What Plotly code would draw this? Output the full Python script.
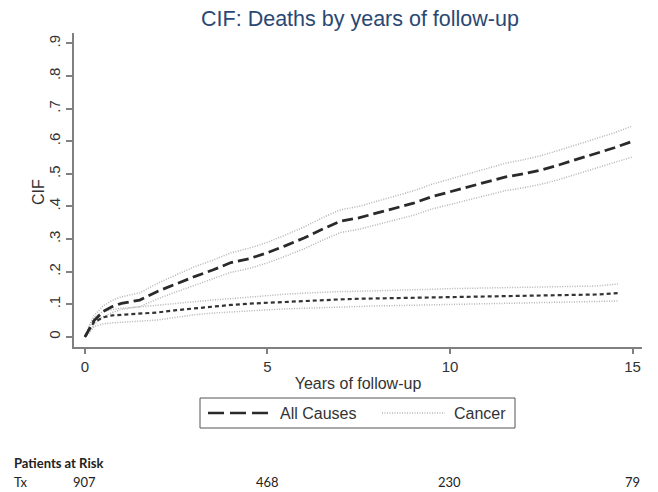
import plotly.graph_objects as go

# ---- data ----
years_all = [0, 0.1, 0.25, 0.5, 0.75, 1, 1.5, 2, 2.5, 3, 3.5, 4, 4.5, 5, 5.5, 6, 6.5, 7,
             7.5, 8, 8.5, 9, 9.5, 10, 10.5, 11, 11.5, 12, 12.5, 13, 13.5, 14, 14.5, 15]
cif_all = [0, 0.02, 0.05, 0.078, 0.093, 0.103, 0.113, 0.14, 0.163, 0.185, 0.205, 0.228,
           0.24, 0.258, 0.28, 0.303, 0.33, 0.355, 0.365, 0.38, 0.395, 0.41, 0.43, 0.445,
           0.46, 0.475, 0.49, 0.5, 0.512, 0.528, 0.545, 0.562, 0.58, 0.6]
cif_all_hi = [0, 0.03, 0.065, 0.095, 0.112, 0.123, 0.135, 0.165, 0.19, 0.215, 0.235, 0.258,
              0.272, 0.29, 0.313, 0.337, 0.365, 0.39, 0.4, 0.415, 0.432, 0.448, 0.468, 0.484,
              0.5, 0.516, 0.532, 0.543, 0.556, 0.573, 0.59, 0.608, 0.626, 0.647]
cif_all_lo = [0, 0.012, 0.038, 0.062, 0.075, 0.084, 0.093, 0.117, 0.138, 0.158, 0.177, 0.198,
              0.21, 0.227, 0.248, 0.27, 0.296, 0.32, 0.33, 0.345, 0.358, 0.373, 0.392, 0.406,
              0.42, 0.434, 0.448, 0.457, 0.468, 0.483, 0.5, 0.516, 0.533, 0.552]

years_can = [0, 0.1, 0.25, 0.5, 0.75, 1, 1.5, 2, 2.5, 3, 3.5, 4, 4.5, 5, 5.5, 6, 6.5, 7,
             7.5, 8, 8.5, 9, 9.5, 10, 10.5, 11, 11.5, 12, 12.5, 13, 13.5, 14, 14.6]
cif_can = [0, 0.02, 0.045, 0.06, 0.066, 0.068, 0.07, 0.075, 0.082, 0.088, 0.093, 0.098,
           0.102, 0.105, 0.108, 0.11, 0.113, 0.115, 0.117, 0.118, 0.119, 0.12, 0.121, 0.123,
           0.124, 0.125, 0.126, 0.127, 0.128, 0.128, 0.129, 0.13, 0.134]
cif_can_hi = [0, 0.03, 0.06, 0.078, 0.084, 0.088, 0.092, 0.098, 0.104, 0.108, 0.113, 0.118,
              0.123, 0.127, 0.131, 0.134, 0.137, 0.139, 0.14, 0.141, 0.142, 0.144, 0.146,
              0.148, 0.149, 0.15, 0.151, 0.152, 0.153, 0.154, 0.155, 0.156, 0.162]
cif_can_lo = [0, 0.01, 0.032, 0.04, 0.043, 0.045, 0.047, 0.052, 0.06, 0.068, 0.073, 0.077,
              0.08, 0.083, 0.086, 0.088, 0.091, 0.093, 0.094, 0.095, 0.096, 0.097, 0.098,
              0.1, 0.101, 0.102, 0.103, 0.104, 0.104, 0.105, 0.106, 0.107, 0.11]

x_ticks = [0, 5, 10, 15]
y_ticks = [0, 0.1, 0.2, 0.3, 0.4, 0.5, 0.6, 0.7, 0.8, 0.9]
y_ticktext = ["0", ".1", ".2", ".3", ".4", ".5", ".6", ".7", ".8", ".9"]
at_risk = [907, 468, 230, 79]

CI_COLOR = "#b4b4b4"
fig = go.Figure()
for y in (cif_all_hi, cif_all_lo):
    fig.add_trace(go.Scatter(x=years_all, y=y, mode="lines", showlegend=False,
                             line=dict(color=CI_COLOR, width=1.5, dash="1px,1.5px")))
for y in (cif_can_hi, cif_can_lo):
    fig.add_trace(go.Scatter(x=years_can, y=y, mode="lines", showlegend=False,
                             line=dict(color=CI_COLOR, width=1.5, dash="1px,1.5px")))
fig.add_trace(go.Scatter(x=years_can, y=cif_can, mode="lines", name="Cancer", showlegend=False,
                         line=dict(color="#333333", width=2.2, dash="4px,3px")))
fig.add_trace(go.Scatter(x=years_all, y=cif_all, mode="lines", name="All Causes", showlegend=False,
                         line=dict(color="#2a2a2a", width=2.8, dash="11px,5px")))

FONT = "Liberation Sans, Arial, sans-serif"
RFONT = "Lato, Open Sans, sans-serif"
AX = "#808080"

# plot area pixel geometry
L, R, T, B = 74, 642, 33, 347
W, H = 658, 492
def px_x(px):
    return (px - L) / (R - L)
def px_y(py):
    return (B - py) / (B - T)

shapes = [
    dict(type="rect", xref="paper", yref="paper", x0=px_x(200), x1=px_x(515),
         y0=px_y(428), y1=px_y(398), line=dict(color="#555555", width=1)),
    dict(type="line", xref="paper", yref="paper", x0=px_x(208), x1=px_x(269),
         y0=px_y(413), y1=px_y(413), line=dict(color="#2a2a2a", width=2.6, dash="16px,6px")),
    dict(type="line", xref="paper", yref="paper", x0=px_x(382), x1=px_x(445),
         y0=px_y(413), y1=px_y(413), line=dict(color=CI_COLOR, width=1.5, dash="1px,1.5px")),
]

annotations = [
    dict(text="All Causes", xref="paper", yref="paper", x=px_x(278), y=px_y(413),
         xanchor="left", yanchor="middle", showarrow=False,
         font=dict(family=FONT, size=16, color="#333333")),
    dict(text="Cancer", xref="paper", yref="paper", x=px_x(452), y=px_y(413),
         xanchor="left", yanchor="middle", showarrow=False,
         font=dict(family=FONT, size=16, color="#333333")),
    dict(text="CIF", xref="paper", yref="paper", x=px_x(38), y=px_y(192),
         xanchor="center", yanchor="middle", textangle=-90, showarrow=False,
         font=dict(family=FONT, size=16, color="#333333")),
    dict(text="<b>Patients at Risk</b>", xref="paper", yref="paper", x=px_x(12), y=px_y(463),
         xanchor="left", yanchor="middle", showarrow=False,
         font=dict(family=RFONT, size=13, color="#222222")),
    dict(text="Tx", xref="paper", yref="paper", x=px_x(12), y=px_y(482),
         xanchor="left", yanchor="middle", showarrow=False,
         font=dict(family=RFONT, size=13, color="#222222")),
]
for xv, n in zip(x_ticks, at_risk):
    annotations.append(dict(text=str(n), xref="x", yref="paper", x=xv, y=px_y(482),
                            xanchor="center", yanchor="middle", showarrow=False,
                            font=dict(family=RFONT, size=13, color="#222222")))

fig.update_layout(
    width=W, height=H,
    margin=dict(l=L, r=W - R, t=T, b=H - B),
    paper_bgcolor="white", plot_bgcolor="white",
    title=dict(text="CIF: Deaths by years of follow-up", x=360 / W,
               xanchor="center", y=1 - 18.5 / H, yanchor="middle",
               font=dict(family=FONT, size=21.5, color="#2a4873")),
    xaxis=dict(range=[-0.3, 15.26], tickvals=x_ticks, showgrid=False, zeroline=False,
               showline=True, linecolor=AX, linewidth=2, ticks="outside", ticklen=5,
               tickcolor=AX, tickwidth=1.5,
               tickfont=dict(family=FONT, size=15, color="#333333"),
               title=dict(text="Years of follow-up", standoff=4,
                          font=dict(family=FONT, size=16, color="#333333"))),
    yaxis=dict(range=[-0.031, 0.932], tickvals=y_ticks, ticktext=y_ticktext, tickangle=-90,
               showgrid=False, zeroline=False, showline=True, linecolor=AX, linewidth=2,
               ticks="outside", ticklen=6, tickcolor=AX, tickwidth=1.5,
               tickfont=dict(family=FONT, size=15, color="#333333")),
    shapes=shapes, annotations=annotations, showlegend=False,
)

fig.write_html("out.html")
